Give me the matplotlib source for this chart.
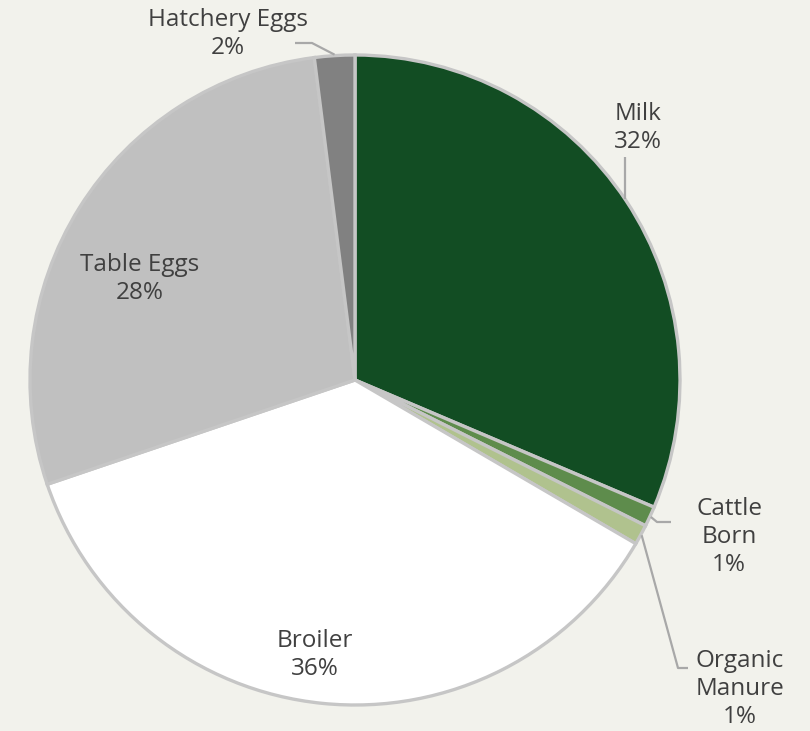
import numpy as np
import matplotlib
matplotlib.use("Agg")
import matplotlib.pyplot as plt

categories = ["Milk", "Cattle\nBorn", "Organic\nManure", "Broiler", "Table Eggs", "Hatchery Eggs"]
values = [31.4, 1.0, 1.0, 36.4, 28.2, 2.0]
pct_labels = ["32%", "1%", "1%", "36%", "28%", "2%"]
colors = ["#124d23", "#5e8c4c", "#b0c28e", "#ffffff", "#c0c0c0", "#818181"]

W, H = 810, 731
fig = plt.figure(figsize=(W / 100, H / 100), dpi=100)
fig.patch.set_facecolor("#f2f2ec")
ax = fig.add_axes([0, 0, 1, 1])

cx, cy, R = 355, H - 380, 325
wedges, _ = ax.pie(values, colors=colors, startangle=90, counterclock=False,
                   center=(cx, cy), radius=R, frame=True,
                   wedgeprops=dict(edgecolor="#c6c6c6", linewidth=2.4))
ax.set_xlim(0, W)
ax.set_ylim(0, H)
ax.set_aspect("equal")
ax.axis("off")

font = dict(family=["Open Sans", "DejaVu Sans"], fontsize=17.5, color="#404040",
            ha="center", va="center", linespacing=1.22)

def mid_angle(w):
    return np.deg2rad((w.theta1 + w.theta2) / 2)

def edge_pt(w, r=R):
    a = mid_angle(w)
    return cx + r * np.cos(a), cy + r * np.sin(a)

# label positions (pixel coords, y from top)
label_pos = [(638, 128), (729, 537), (740, 689), (315, 655), (140, 279), (228, 34)]
for i, (name, pct) in enumerate(zip(categories, pct_labels)):
    x, y = label_pos[i]
    ax.text(x, H - y, f"{name}\n{pct}", **font)

lc = dict(color="#a8a8a8", lw=1.6, solid_capstyle="butt")
# Milk leader (vertical)
xm = 625
ym_edge = cy + np.sqrt(R**2 - (xm - cx) ** 2)
ax.plot([xm, xm], [ym_edge, H - 157], **lc)
# Cattle Born leader
ex, ey = edge_pt(wedges[1], R + 1)
ax.plot([ex, 657, 671], [ey, H - 522, H - 522], **lc)
# Organic Manure leader
ex, ey = edge_pt(wedges[2], R + 1)
ax.plot([ex, 678, 688], [ey, H - 668, H - 668], **lc)
# Hatchery Eggs leader
ex, ey = edge_pt(wedges[5], R + 1)
ax.plot([ex, 312, 295], [ey, H - 43, H - 43], **lc)

fig.savefig("out.png", dpi=100, facecolor=fig.get_facecolor())
